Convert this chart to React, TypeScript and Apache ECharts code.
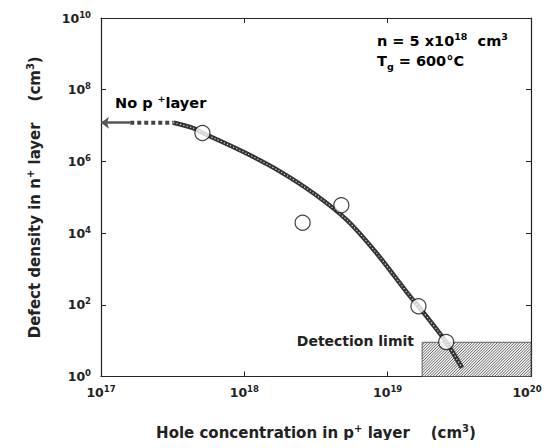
import React, { useEffect, useRef } from "react";
import * as echarts from "echarts";

// ---- data ----
const xTickExponents = [17, 18, 19, 20];
const yTickExponents = [0, 2, 4, 6, 8, 10];

// fitted curve (x: hole concentration, y: defect density)
const curveX = [3.2e17, 4.4e17, 5.1e17, 1.03e18, 1.78e18, 3.04e18, 5.2e18, 8.4e18, 1.44e19, 1.64e19, 2.56e19, 3.3e19];
const curveY = [1.2e7, 8.5e6, 6.3e6, 1.68e6, 5.2e5, 1.29e5, 2.3e4, 2.7e3, 168, 91, 9.1, 1.73];

// "No p+ layer" level: dashed part and arrow
const noLayerLevel = 1.2e7;
const dashedX = [1.6e17, 3.2e17];
const arrowX = [1.6e17, 1.0e17];

// measured points
const pointX = [5.1e17, 2.55e18, 4.75e18, 1.64e19, 2.56e19];
const pointY = [6.2e6, 1.95e4, 6.0e4, 91, 9.2];

// detection limit region [xmin, xmax, ymin, ymax]
const detectionRegion = [1.74e19, 1e20, 1, 9];

const FONT = "DejaVu Sans, Liberation Sans, Arial, sans-serif";
const INK = "#222";

const supRich = {
  b: { fontSize: 12.5, fontFamily: FONT, fontWeight: "bold", color: INK },
  s: { fontSize: 8.5, fontFamily: FONT, fontWeight: "bold", color: INK, verticalAlign: "bottom", padding: [0, 0, 7, 0] },
  e: { fontSize: 8.5, fontFamily: FONT, fontWeight: "bold", color: INK, verticalAlign: "bottom", padding: [0, 8, 7, 0] },
};

const lastX = xTickExponents[xTickExponents.length - 1];
const expLabelX = (v: number) => {
  const e = Math.round(Math.log10(v));
  return e === lastX ? `{b|10}{e|${e}}` : `{b|10}{s|${e}}`;
};
const expLabel = (v: number) => `{b|10}{s|${Math.round(Math.log10(v))}}`;

export default function App() {
  const ref = useRef<HTMLDivElement>(null);
  useEffect(() => {
    if (!ref.current) return;
    const chart = echarts.init(ref.current, null, { renderer: "svg" });

    const curveData = curveX.map((x, i) => [x, curveY[i]]);
    const dashedData = dashedX.map((x) => [x, noLayerLevel]);
    const points = pointX.map((x, i) => [x, pointY[i]]);

    const axisLine = { show: true, lineStyle: { color: INK, width: 1.2 } };
    const tick = { show: true, inside: true, length: 5, lineStyle: { color: INK, width: 1 } };

    const titleRich = {
      t: { fontSize: 14.5, fontFamily: FONT, fontWeight: "bold", color: INK },
      s: { fontSize: 9.5, fontFamily: FONT, fontWeight: "bold", color: INK, verticalAlign: "bottom", padding: [0, 0, 9, 0] },
    };
    const axisTitleRich = {
      t: { fontSize: 15, fontFamily: FONT, fontWeight: "bold", color: INK },
      s: { fontSize: 10, fontFamily: FONT, fontWeight: "bold", color: INK, verticalAlign: "bottom", padding: [0, 0, 9, 0] },
    };

    const option: any = {
      animation: false,
      backgroundColor: "#fff",
      grid: { left: 101, right: 21, top: 18, bottom: 71.5, containLabel: false },
      xAxis: [
        {
          type: "log",
          logBase: 10,
          min: Math.pow(10, xTickExponents[0]),
          max: Math.pow(10, lastX),
          position: "bottom",
          axisLine,
          axisTick: tick,
          minorTick: { show: false },
          splitLine: { show: false },
          axisLabel: { formatter: expLabelX, rich: supRich, margin: 8, showMinLabel: true, showMaxLabel: true },
          name: "{t|Hole concentration in p}{s|+}{t| layer    (cm}{s|3}{t|)}",
          nameLocation: "middle",
          nameGap: 47,
          nameTextStyle: { rich: axisTitleRich },
        },
        {
          type: "log",
          logBase: 10,
          min: 1e17,
          max: 1e20,
          position: "top",
          axisLine,
          axisTick: tick,
          axisLabel: { show: false },
          splitLine: { show: false },
        },
      ],
      yAxis: [
        {
          type: "log",
          logBase: 100,
          min: Math.pow(10, yTickExponents[0]),
          max: Math.pow(10, yTickExponents[yTickExponents.length - 1]),
          position: "left",
          axisLine,
          axisTick: tick,
          splitLine: { show: false },
          axisLabel: { formatter: expLabel, rich: supRich, margin: 10 },
          name: "{t|Defect density in n}{s|+}{t| layer    (cm}{s|3}{t|)}",
          nameLocation: "middle",
          nameGap: 57,
          nameRotate: 90,
          nameTextStyle: { rich: axisTitleRich },
        },
        {
          type: "log",
          logBase: 100,
          min: 1,
          max: 1e10,
          position: "right",
          axisLine,
          axisTick: tick,
          axisLabel: { show: false },
          splitLine: { show: false },
        },
      ],
      series: [
        {
          type: "custom",
          name: "detection",
          xAxisIndex: 0,
          yAxisIndex: 0,
          encode: { x: [0, 1], y: [2, 3] },
          data: [detectionRegion],
          z: 1,
          renderItem: (params: any, api: any) => {
            const p0 = api.coord([api.value(0), api.value(2)]);
            const p1 = api.coord([api.value(1), api.value(3)]);
            const x0 = p0[0], x1 = p1[0], yb = p0[1], yt = p1[1];
            const children: any[] = [
              {
                type: "rect",
                shape: { x: x0, y: yt, width: x1 - x0, height: yb - yt },
                style: { fill: "#f4f4f4", stroke: "#444", lineWidth: 0.8 },
              },
            ];
            for (let c = x0 + yt; c <= x1 + yb; c += 2.8) {
              const xa = Math.max(x0, c - yb);
              const xb = Math.min(x1, c - yt);
              if (xb > xa) {
                children.push({
                  type: "line",
                  shape: { x1: xa, y1: c - xa, x2: xb, y2: c - xb },
                  style: { stroke: "#444", lineWidth: 0.8 },
                });
              }
            }
            return { type: "group", children };
          },
        },
        {
          type: "line",
          name: "dashed",
          data: dashedData,
          symbol: "none",
          z: 3,
          lineStyle: { color: "#444", width: 4, type: [4, 3] },
          markLine: {
            silent: true,
            symbol: ["none", "arrow"],
            symbolSize: [9, 8],
            label: { show: false },
            lineStyle: { color: "#555", width: 2.5, type: "solid" },
            data: [
              [
                { coord: [arrowX[0], noLayerLevel] },
                { coord: [arrowX[1], noLayerLevel] },
              ],
            ],
          },
        },
        {
          type: "line",
          name: "curve",
          data: curveData,
          symbol: "none",
          smooth: 0.3,
          z: 3,
          lineStyle: { color: "#333", width: 4.5 },
        },
        {
          type: "line",
          name: "curveDots",
          data: curveData,
          symbol: "none",
          smooth: 0.3,
          z: 4,
          lineStyle: { color: "#fff", width: 1.1, type: [1.2, 2.2], opacity: 0.9 },
        },
        {
          type: "scatter",
          name: "points",
          data: points,
          symbol: "circle",
          symbolSize: 15,
          z: 5,
          itemStyle: { color: "#fff", borderColor: "#111", borderWidth: 1.2 },
        },
      ],
      graphic: [
        {
          type: "text",
          left: 377,
          top: 31,
          z: 10,
          style: {
            text: "{t|n = 5 x10}{s|18}{t|  cm}{s|3}",
            rich: titleRich,
          },
        },
        {
          type: "text",
          left: 377,
          top: 53,
          z: 10,
          style: {
            text: "{t|T}{g|g}{t| = 600°C}",
            rich: {
              t: titleRich.t,
              g: { fontSize: 9.5, fontFamily: FONT, fontWeight: "bold", color: INK, verticalAlign: "bottom", padding: [0, 0, -3, 0] },
            },
          },
        },
        {
          type: "text",
          left: 115,
          top: 93,
          z: 10,
          style: {
            text: "{t|No p }{s|+}{t|layer}",
            rich: titleRich,
          },
        },
        {
          type: "text",
          right: 552 - 414,
          top: 334,
          z: 10,
          style: {
            text: "Detection limit",
            fontSize: 14,
            fontFamily: FONT,
            fontWeight: "bold",
            fill: INK,
          },
        },
      ],
    };

    chart.setOption(option);
    return () => chart.dispose();
  }, []);

  return <div ref={ref} style={{ width: 552, height: 448, margin: -8 }} />;
}
